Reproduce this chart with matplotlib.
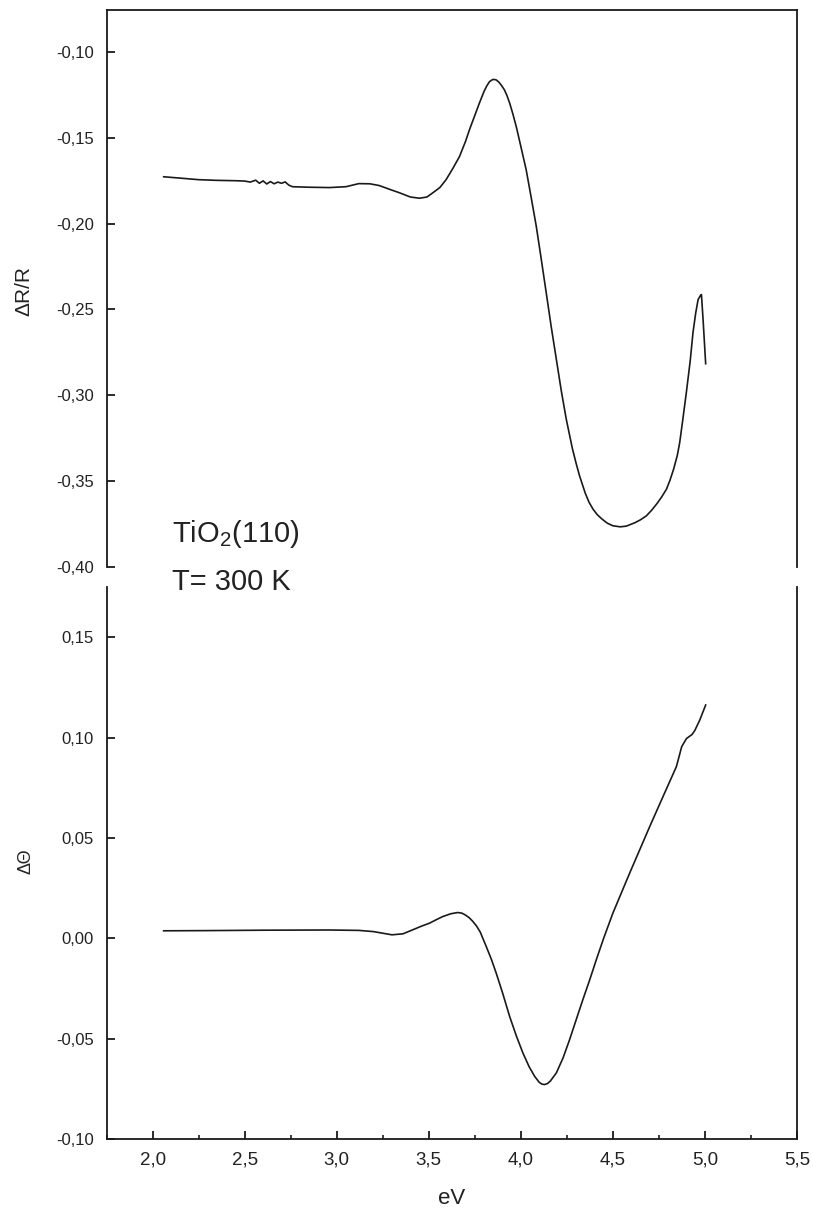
import matplotlib
matplotlib.use("Agg")
import matplotlib.pyplot as plt
from matplotlib.ticker import MultipleLocator, FuncFormatter

plt.rcParams['font.family'] = ['Liberation Sans', 'DejaVu Sans']
plt.rcParams['mathtext.fontset'] = 'custom'
plt.rcParams['mathtext.rm'] = 'Liberation Sans'
plt.rcParams['mathtext.it'] = 'Liberation Sans'

# Reflectance anisotropy spectrum, dR/R
energy_r = [2.06, 2.15, 2.25, 2.35, 2.45, 2.50, 2.53, 2.56, 2.58, 2.60, 2.62,
            2.64, 2.66, 2.68, 2.70, 2.72, 2.74, 2.76, 2.85, 2.96, 3.05, 3.12,
            3.18, 3.23, 3.30, 3.34, 3.40, 3.45, 3.49, 3.52, 3.56, 3.594, 3.63,
            3.667, 3.70, 3.721, 3.75, 3.775, 3.80, 3.815, 3.83, 3.848, 3.865,
            3.88, 3.895, 3.911, 3.925, 3.94, 3.957, 3.975, 4.00, 4.029, 4.055,
            4.084, 4.11, 4.138, 4.165, 4.193, 4.22, 4.247, 4.28, 4.30, 4.319,
            4.35, 4.37, 4.392, 4.415, 4.44, 4.47, 4.50, 4.54, 4.573, 4.62,
            4.65, 4.682, 4.71, 4.74, 4.765, 4.791, 4.81, 4.83, 4.85, 4.863,
            4.88, 4.899, 4.92, 4.935, 4.95, 4.963, 4.975, 4.981, 4.99, 5.004]
dr_r = [-0.1727, -0.1735, -0.1744, -0.1748, -0.1750, -0.1752, -0.1758, -0.1747,
        -0.1765, -0.1751, -0.1769, -0.1755, -0.1768, -0.1758, -0.1765, -0.1757,
        -0.1776, -0.1785, -0.1788, -0.1790, -0.1785, -0.1767, -0.1768, -0.1778,
        -0.1805, -0.1820, -0.1845, -0.1852, -0.1845, -0.1822, -0.1790, -0.1744,
        -0.1680, -0.1609, -0.1520, -0.1453, -0.1370, -0.1298, -0.1230, -0.1198,
        -0.1173, -0.1160, -0.1162, -0.1175, -0.1195, -0.1221, -0.1255, -0.1300,
        -0.1362, -0.1434, -0.1550, -0.1686, -0.1840, -0.2016, -0.2200, -0.2403,
        -0.2600, -0.2791, -0.2975, -0.3140, -0.3310, -0.3395, -0.3469, -0.3570,
        -0.3622, -0.3663, -0.3695, -0.3720, -0.3745, -0.3760, -0.3766, -0.3762,
        -0.3742, -0.3725, -0.3702, -0.3670, -0.3630, -0.3592, -0.3547, -0.3495,
        -0.3430, -0.3350, -0.3275, -0.3140, -0.2984, -0.2800, -0.2636, -0.2520,
        -0.2442, -0.2420, -0.2413, -0.2560, -0.2816]

# Polarisation rotation spectrum, dTheta
energy_t = [2.06, 2.30, 2.60, 2.96, 3.12, 3.20, 3.30, 3.36, 3.413, 3.46, 3.504,
            3.54, 3.576, 3.62, 3.657, 3.68, 3.70, 3.72, 3.739, 3.76, 3.78,
            3.812, 3.84, 3.866, 3.90, 3.939, 3.975, 4.011, 4.045, 4.075, 4.10,
            4.115, 4.129, 4.145, 4.16, 4.193, 4.23, 4.265, 4.30, 4.337, 4.375,
            4.41, 4.45, 4.50, 4.591, 4.70, 4.772, 4.845, 4.874, 4.90, 4.93,
            4.945, 4.972, 5.004]
d_theta = [0.0037, 0.0038, 0.0040, 0.0041, 0.0039, 0.0033, 0.0017, 0.0022,
           0.0042, 0.0060, 0.0075, 0.0092, 0.0108, 0.0122, 0.0128, 0.0125,
           0.0115, 0.0102, 0.0084, 0.0060, 0.0030, -0.0041, -0.0105, -0.0173,
           -0.0270, -0.0389, -0.0485, -0.0571, -0.0640, -0.0688, -0.0718,
           -0.0727, -0.0729, -0.0724, -0.0712, -0.0671, -0.0595, -0.0505,
           -0.0408, -0.0306, -0.0205, -0.0107, 0.0000, 0.0125, 0.0324, 0.0556,
           0.0705, 0.0855, 0.0955, 0.0995, 0.1015, 0.1035, 0.1087, 0.1162]

x_ticks = [2.0, 2.5, 3.0, 3.5, 4.0, 4.5, 5.0, 5.5]
r_ticks = [-0.40, -0.35, -0.30, -0.25, -0.20, -0.15, -0.10]
t_ticks = [-0.10, -0.05, 0.00, 0.05, 0.10, 0.15]

ink = '#1a1a1a'

fig = plt.figure(figsize=(8.13, 12.11), dpi=100)
ax1 = fig.add_axes([0.1311, 0.5318, 0.8492, 0.4599])
ax2 = fig.add_axes([0.1311, 0.0595, 0.8492, 0.4558])


def comma(fmt):
    return FuncFormatter(lambda v, p: (fmt % v).replace('.', ','))


for ax in (ax1, ax2):
    ax.set_xlim(1.75, 5.5)
    for s in ax.spines.values():
        s.set_linewidth(1.3)
        s.set_color(ink)
    ax.tick_params(axis='both', which='major', direction='in', length=6,
                   width=1.3, color=ink, pad=9)
    ax.tick_params(axis='both', which='minor', direction='in', length=3,
                   width=1.2, color=ink)
    ax.tick_params(axis='y', labelsize=12, labelcolor='#222222')
    ax.tick_params(axis='x', labelsize=13.5, labelcolor='#222222')
    ax.tick_params(top=False, right=False)

# Upper panel: dR/R
ax1.plot(energy_r, dr_r, color=ink, lw=1.2)
ax1.set_ylim(-0.40, -0.0756)
ax1.set_yticks(r_ticks)
ax1.yaxis.set_major_formatter(comma('%.2f'))
ax1.spines['bottom'].set_visible(False)
ax1.tick_params(axis='x', which='both', bottom=False, labelbottom=False)

# Lower panel: dTheta
ax2.plot(energy_t, d_theta, color=ink, lw=1.2)
ax2.set_ylim(-0.10, 0.175)
ax2.set_yticks(t_ticks)
ax2.yaxis.set_major_formatter(comma('%.2f'))
ax2.spines['top'].set_visible(False)
ax2.set_xticks(x_ticks)
ax2.xaxis.set_minor_locator(MultipleLocator(0.25))
ax2.xaxis.set_major_formatter(comma('%.1f'))
ax2.set_xlabel('eV', fontsize=16, color='#222222', labelpad=14)

fig.text(24 / 813, 1 - 291 / 1211, 'ΔR/R', rotation=90, fontsize=15,
         ha='center', va='center', color='#222222')
fig.text(26 / 813, 1 - 861 / 1211, 'ΔΘ', rotation=90, fontsize=13,
         ha='center', va='center', color='#222222')

fig.text(172 / 813, 1 - 542 / 1211, r'TiO$_{\mathregular{2}}$(110)',
         fontsize=21, ha='left', va='baseline', color='#222222')
fig.text(172 / 813, 1 - 590 / 1211, 'T= 300 K', fontsize=21,
         ha='left', va='baseline', color='#222222')

fig.savefig('out.png', dpi=100, facecolor='white')
